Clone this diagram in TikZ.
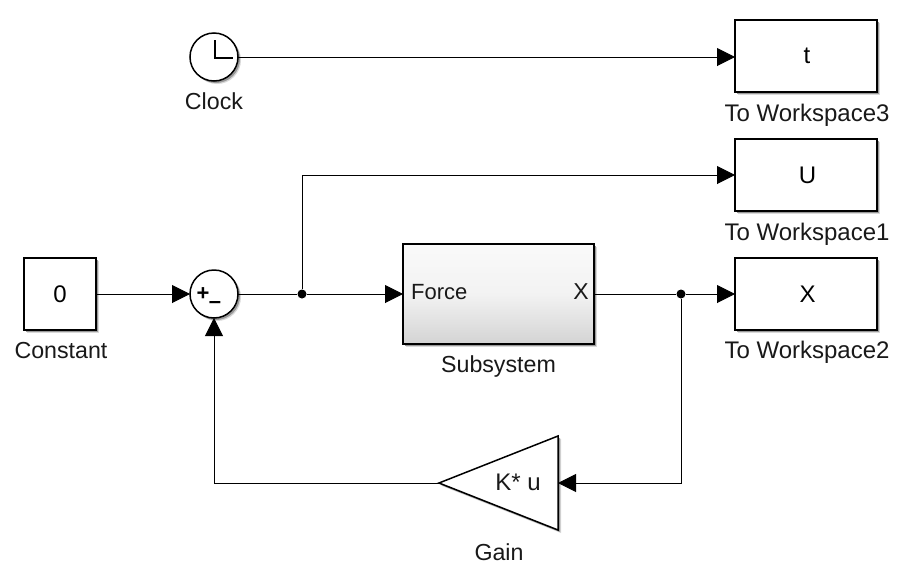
\documentclass[tikz,border=0pt]{standalone}
\usepackage{fontspec}
\setmainfont{Liberation Sans}
\usetikzlibrary{arrows.meta,shadows,calc}
\tikzset{
  softshadow/.style={general shadow={shadow xshift=3pt,shadow yshift=-3pt,fill=black!15},
                     general shadow={shadow xshift=2pt,shadow yshift=-2pt,fill=black!40}},
  blockbox/.style={draw=black,line width=1.5pt,fill=white,rectangle,inner sep=0pt,outer sep=0pt,softshadow,font=\fontsize{24}{28}\selectfont},
  roundblock/.style={draw=black,line width=1.5pt,fill=white,circle,inner sep=0pt,outer sep=0pt,minimum size=48pt,softshadow},
  lbl/.style={inner sep=0pt,font=\fontsize{24}{28}\selectfont,text=black!90},
  shortlbl/.style={inner sep=0pt,font=\fontsize{23.2}{27}\selectfont,text=black!90},
  port/.style={inner sep=0pt,font=\fontsize{22}{26}\selectfont,text=black!90},
  sig/.style={draw=black,line width=1pt,-{Triangle[length=18pt,width=18pt]}},
  wire/.style={draw=black,line width=1pt},
  joint/.style={circle,fill=black,inner sep=0pt,minimum size=9pt}
}
\begin{document}
\begin{tikzpicture}[x=1pt,y=-1pt]
\useasboundingbox[fill=white] (0,0) rectangle (906,568);
% blocks
\node[blockbox,minimum width=72pt,minimum height=72pt] (const) at (60,294) {0};
\node[roundblock] (sum) at (214,294) {};
\node[roundblock] (clock) at (214,57) {};
\node[blockbox,minimum width=142pt,minimum height=72pt] (ws3) at (806,56) {\hspace*{2pt}t};
\node[blockbox,minimum width=142pt,minimum height=72pt] (ws1) at (806,175) {\hspace*{3pt}U};
\node[blockbox,minimum width=142pt,minimum height=72pt] (ws2) at (806,294) {\hspace*{3pt}X};
\node[rectangle,draw=black,line width=1.5pt,top color=white!98!black,bottom color=black!17,middle color=black!5,inner sep=0pt,outer sep=0pt,minimum width=191pt,minimum height=100pt,softshadow] (sub) at (498.5,294) {};
\coordinate (gainW) at (439,483);
\coordinate (gainE) at (558,483);
\draw[line width=1.5pt,line join=miter,fill=white,softshadow] (gainW) -- (558,436) -- (558,530) -- cycle;
% inner texts
\node[port,anchor=west] (force) at (411,292) {Force};
\node[port,font=\fontsize{23}{27}\selectfont] (xport) at (581,292) {X};
\node[port,font=\fontsize{24}{28}\selectfont] (ku) at (518,482) {K* u};
\draw[line width=1.8pt] (215,40) -- (215,58) -- (233,58);
\node[inner sep=0pt,font=\bfseries\fontsize{22}{26}\selectfont] (plus) at (203,294) {+};
\node[inner sep=0pt,font=\bfseries\fontsize{22}{26}\selectfont] (minus) at (215,305) {–};
% labels
\node[shortlbl] (lclock) at (214,101) {Clock};
\node[shortlbl] (lconst) at (61,350.5) {Constant};
\node[shortlbl] (lsub) at (498.5,366) {Subsystem};
\node[shortlbl] (lgain) at (499,552) {Gain};
\node[lbl] (lws3) at (807,115) {To Workspace3};
\node[lbl] (lws1) at (807,234) {To Workspace1};
\node[lbl] (lws2) at (807,352) {To Workspace2};
% junctions
\node[joint] (j1) at (302,294) {};
\node[joint] (j2) at (681,294) {};
% connectors
\draw[sig] (clock.east) -- (clock.east -| ws3.west);
\draw[sig] (const.east) -- (sum.west);
\draw[wire] (sum.east) -- (j1);
\draw[sig] (j1) -- (sub.west);
\draw[sig] (j1) |- (ws1.west);
\draw[wire] (sub.east) -- (j2);
\draw[sig] (j2) -- (ws2.west);
\draw[sig] (j2) |- (gainE);
\draw[sig] (gainW) -| (sum.south);
\end{tikzpicture}
\end{document}
